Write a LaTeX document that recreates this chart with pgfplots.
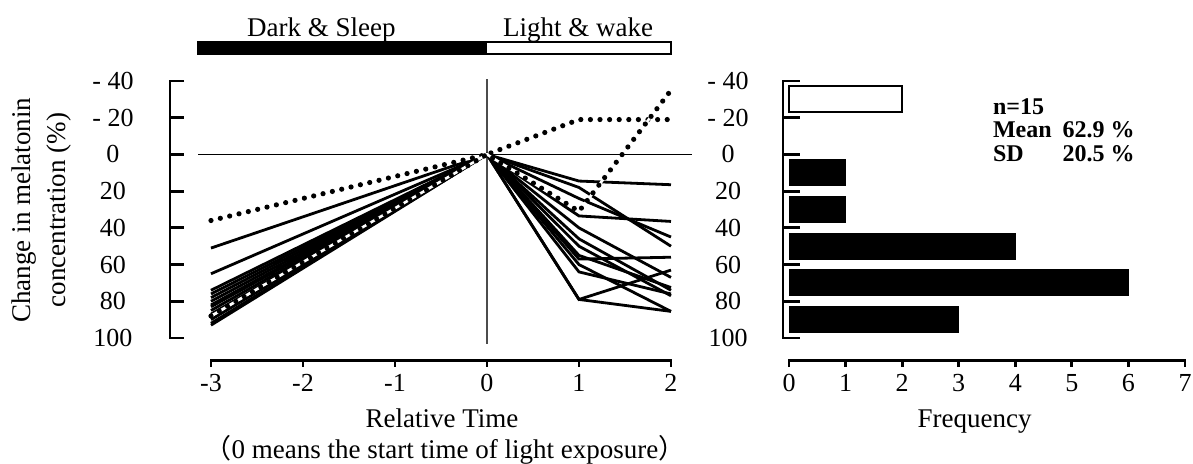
\documentclass[border=0pt]{standalone}
\usepackage{pgfplots}
\pgfplotsset{compat=1.18}
\usepackage{fontspec}
\setmainfont{Liberation Serif}
\newfontfamily\cjk{Noto Sans CJK JP}

\pgfplotsset{
  panel/.style={
    scale only axis, clip=false,
    height=128.5pt,
    axis line style={draw=none}, tick style={draw=none}, major tick length=0pt,
    ymin=-40, ymax=100, y dir=reverse,
    ytick={-40,-20,0,20,40,60,80,100},
    yticklabels={- 40,- 20,0,20,40,60,80,100},
    tick label style={font=\fontsize{13}{15}\selectfont},
    yticklabel style={anchor=center},
    xticklabel style={anchor=center, yshift=-22.5pt},
  },
}
\tikzset{
  axln/.style={line width=1.4pt},
  sline/.style={black, line width=1.4pt},
  dline/.style={black, line width=2.6pt, dash pattern=on 0pt off 4.8pt, line cap=round},
  dunder/.style={white, line width=1.3pt},
}

\begin{document}
\begin{tikzpicture}
\fontsize{13.5}{17.5}\selectfont

% left: individual time courses
\begin{axis}[panel,
  at={(105.5pt,-169pt)}, anchor=south west, width=230pt,
  xmin=-3, xmax=2,
  xtick={-3,-2,-1,0,1,2}, xticklabels={-3,-2,-1,0,1,2},
  yticklabel style={xshift=-49pt},
]
% reference lines
\draw[line width=0.7pt] (axis cs:-3.14,0) -- (axis cs:2.23,0);
\draw[black!70, line width=1.1pt] (axis cs:0,-41) -- (axis cs:0,103.5);
% y spine
\draw[axln] (axis cs:-3.293,-40) -- (axis cs:-3.446,-40) -- (axis cs:-3.446,100) -- (axis cs:-3.293,100);
\pgfplotsinvokeforeach{-20,0,20,40,60,80}{\draw[axln] (axis cs:-3.446,#1) -- (axis cs:-3.293,#1);}
% x spine
\draw[axln] (axis cs:-3,115.9) -- (axis cs:-3,112.1) -- (axis cs:2,112.1) -- (axis cs:2,115.9);
\pgfplotsinvokeforeach{-2,-1,0,1}{\draw[axln] (axis cs:#1,112.1) -- (axis cs:#1,115.9);}
% dark / light bar
\fill (axis cs:-3.14,-61.2) rectangle (axis cs:0,-54.7);
\draw[line width=1pt] (axis cs:-3.14,-61.2) rectangle (axis cs:2,-54.7);
\node[anchor=base] at (axis cs:-1.8,-64.5) {Dark \& Sleep};
\node[anchor=base] at (axis cs:0.99,-64.5) {Light \& wake};
% labels
\node[rotate=90, align=center] at (axis cs:-4.842,30.3) {Change in melatonin\\concentration (\%)};
\node[anchor=base] at (axis cs:-0.49,148.5) {Relative Time};
\node[anchor=base] at (axis cs:-0.457,165.9) {{\cjk （}0 means the start time of light exposure{\cjk ）}};

\addplot[sline] coordinates {(-3,51)(0,0)(1,14.5)(2,16.5)};
\addplot[sline] coordinates {(-3,65)(0,0)(1,18)(2,50)};
\addplot[sline] coordinates {(-3,74)(0,0)(1,24)(2,45)};
\addplot[sline] coordinates {(-3,76)(0,0)(1,33.5)(2,36.5)};
\addplot[sline] coordinates {(-3,78)(0,0)(1,40)(2,67)};
\addplot[sline] coordinates {(-3,80)(0,0)(1,46)(2,74)};
\addplot[sline] coordinates {(-3,82)(0,0)(1,50)(2,77)};
\addplot[sline] coordinates {(-3,83)(0,0)(1,55)(2,72.5)};
\addplot[sline] coordinates {(-3,85)(0,0)(1,57)(2,56)};
\addplot[sline] coordinates {(-3,87)(0,0)(1,64)(2,76)};
\addplot[sline] coordinates {(-3,90)(0,0)(1,79)(2,63)};
\addplot[sline] coordinates {(-3,92)(0,0)(1,79)(2,85.5)};
\addplot[sline] coordinates {(-3,93)(0,0)(1,60)(2,85.5)};
\addplot[dunder] coordinates {(-3,36)(0,0)(1,-19)(2,-19)};
\addplot[dline] coordinates {(-3,36)(0,0)(1,-19)(2,-19)};
\addplot[dunder] coordinates {(-3,88)(0,0)(1,31)(2,-35)};
\addplot[dline] coordinates {(-3,88)(0,0)(1,31)(2,-35)};
\end{axis}

% right: histogram of changes
\begin{axis}[panel,
  at={(394.5pt,-169pt)}, anchor=south west, width=198pt,
  xmin=0, xmax=7,
  xtick={0,1,2,3,4,5,6,7}, xticklabels={0,1,2,3,4,5,6,7},
  yticklabel style={xshift=-30.5pt},
]
\draw[axln] (axis cs:0.19,-40) -- (axis cs:-0.106,-40) -- (axis cs:-0.106,100) -- (axis cs:0.19,100);
\pgfplotsinvokeforeach{-20,0,20,40,60,80}{\draw[axln] (axis cs:-0.106,#1) -- (axis cs:0.19,#1);}
\draw[axln] (axis cs:0,115.9) -- (axis cs:0,112.1) -- (axis cs:7,112.1) -- (axis cs:7,115.9);
\pgfplotsinvokeforeach{1,2,3,4,5,6}{\draw[axln] (axis cs:#1,112.1) -- (axis cs:#1,115.9);}
\addplot[xbar, bar width=13pt, bar shift=0pt, fill=white, draw=black, line width=1pt]
  coordinates {(2,-30)};
\addplot[xbar, bar width=13pt, bar shift=0pt, fill=black, draw=black, line width=0.5pt]
  coordinates {(1,10)(1,30)(4,50)(6,70)(3,90)};
\node[anchor=base] at (axis cs:3.28,148.5) {Frequency};
\begin{scope}[every node/.style={anchor=base west, inner sep=0pt, font=\fontsize{12}{14}\selectfont\bfseries}]
\node at (axis cs:3.6,-21.5) {n=15};
\node at (axis cs:3.6,-9.2) {Mean};
\node at (axis cs:4.83,-9.2) {62.9 \%};
\node at (axis cs:3.6,3.6) {SD};
\node at (axis cs:4.83,3.6) {20.5 \%};
\end{scope}
\end{axis}

\pgfresetboundingbox
\path (0,0) rectangle (596.5pt,-232pt);
\end{tikzpicture}
\end{document}
